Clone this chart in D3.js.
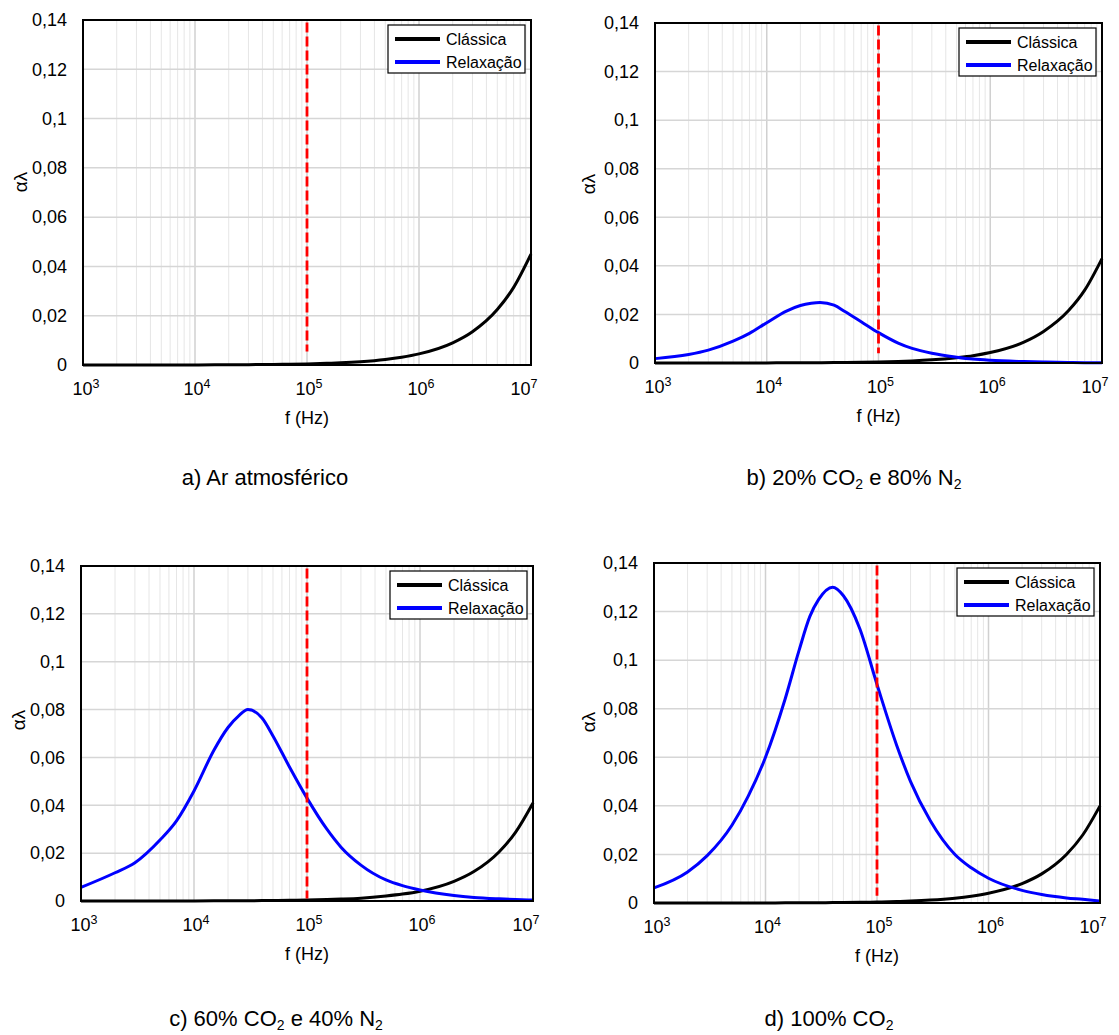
<!DOCTYPE html>
<html>
<head>
<meta charset="utf-8">
<script src="https://cdn.jsdelivr.net/npm/d3@7"></script>
<style>
  body { margin: 0; background: #fff; }
  svg { display: block; }
  text { font-family: "Liberation Sans", Arial, sans-serif; fill: #000; }
</style>
</head>
<body>
<svg id="chart" width="1119" height="1035"></svg>
<script>
// sample frequencies (Hz)
var freq = [1e3, 2e3, 3e3, 5e3, 7e3, 1e4, 1.5e4, 2e4, 2.5e4, 3e4, 4e4, 5e4, 7e4,
            1e5, 1.5e5, 2e5, 3e5, 5e5, 7e5, 1e6, 2e6, 3e6, 5e6, 7e6, 1e7];

// "Clássica" curves
var classicA = [0.000005, 0.000009, 0.000014, 0.000023, 0.000032, 0.000045, 0.000068, 0.00009, 0.00011, 0.000135, 0.00018, 0.000225, 0.000315,
                0.00045, 0.00068, 0.0009, 0.00135, 0.00225, 0.00315, 0.0045, 0.009, 0.0135, 0.0225, 0.0315, 0.045];
var classicB = [0.000004, 0.000009, 0.000013, 0.000022, 0.00003, 0.000043, 0.000065, 0.000086, 0.00011, 0.00013, 0.00017, 0.00022, 0.0003,
                0.00043, 0.00065, 0.00086, 0.0013, 0.0022, 0.003, 0.0043, 0.0086, 0.013, 0.0215, 0.030, 0.043];
var classicC = [0.000004, 0.000008, 0.000012, 0.000021, 0.000029, 0.000041, 0.000062, 0.000082, 0.0001, 0.00012, 0.00016, 0.00021, 0.00029,
                0.00041, 0.00062, 0.00082, 0.0012, 0.0021, 0.0029, 0.0041, 0.0082, 0.0123, 0.0205, 0.0287, 0.041];
var classicD = [0.000004, 0.000008, 0.000012, 0.00002, 0.000028, 0.00004, 0.00006, 0.00008, 0.0001, 0.00012, 0.00016, 0.0002, 0.00028,
                0.0004, 0.0006, 0.0008, 0.0012, 0.002, 0.0028, 0.004, 0.008, 0.012, 0.020, 0.028, 0.040];

// "Relaxação" curves (none visible in panel a)
var relaxA = [];
var relaxB = [0.0018, 0.0035, 0.0053, 0.0090, 0.0122, 0.0166, 0.0214, 0.0237, 0.0246, 0.0249, 0.0238, 0.0212, 0.0170,
              0.0125, 0.0082, 0.0060, 0.0040, 0.0024, 0.0016, 0.0011, 0.0006, 0.0004, 0.0002, 0.00015, 0.0001];
var relaxC = [0.0057, 0.0118, 0.0160, 0.0255, 0.0335, 0.0460, 0.0630, 0.0725, 0.0775, 0.0800, 0.0765, 0.0690, 0.0560,
              0.0430, 0.0300, 0.0225, 0.0150, 0.0088, 0.0064, 0.0046, 0.0023, 0.0015, 0.0009, 0.0006, 0.0004];
var relaxD = [0.0062, 0.0128, 0.0195, 0.0320, 0.0440, 0.0600, 0.0840, 0.1040, 0.1180, 0.1250, 0.1300, 0.1265, 0.1130,
              0.0900, 0.0650, 0.0500, 0.0340, 0.0200, 0.0145, 0.0102, 0.0052, 0.0035, 0.0021, 0.0015, 0.0008];

// red dashed marker at 100 kHz
var markerFreq = [1e5, 1e5, 1e5, 1e5];
var markerLow = [0.0055, 0.004, 0.001, 0.003];
var markerHigh = 0.139;

var yTicks = [0, 0.02, 0.04, 0.06, 0.08, 0.1, 0.12, 0.14];
var yTickLabels = ["0", "0,02", "0,04", "0,06", "0,08", "0,1", "0,12", "0,14"];
var xTickExps = [3, 4, 5, 6, 7];
var seriesNames = ["Clássica", "Relaxação"];
var seriesColors = ["#000000", "#0000ff"];
var xTitle = "f (Hz)";
var yTitle = "αλ";

// captions: [text, subscript] pieces
var captions = [
  [["a) Ar atmosférico", false]],
  [["b) 20% CO", false], ["2", true], [" e 80% N", false], ["2", true]],
  [["c) 60% CO", false], ["2", true], [" e 40% N", false], ["2", true]],
  [["d) 100% CO", false], ["2", true]]
];

var svg = d3.select("#chart");

var panels = [
  { left: 83,  right: 531,  top: 20,  bottom: 365, classic: classicA, relax: relaxA, capX: 265, capY: 485, ylx: 20,  yly: 182 },
  { left: 655, right: 1102, top: 23,  bottom: 363, classic: classicB, relax: relaxB, capX: 854, capY: 485, ylx: 588, yly: 184 },
  { left: 81,  right: 533,  top: 566, bottom: 901, classic: classicC, relax: relaxC, capX: 276, capY: 1026, ylx: 18, yly: 720 },
  { left: 654, right: 1100, top: 563, bottom: 903, classic: classicD, relax: relaxD, capX: 829, capY: 1026, ylx: 588, yly: 722 }
];

panels.forEach(drawPanel);

function drawPanel(p, i) {
  var x = d3.scaleLog().domain([1e3, 1e7]).range([p.left, p.right]);
  var y = d3.scaleLinear().domain([0, 0.14]).range([p.bottom, p.top]);
  var g = svg.append("g");

  // minor vertical grid (2..9 in each decade)
  var minor = [];
  xTickExps.slice(0, -1).forEach(function(e) {
    for (var m = 2; m < 10; m++) minor.push(m * Math.pow(10, e));
  });
  g.selectAll(".vminor").data(minor).enter().append("line")
    .attr("x1", function(d) { return x(d); }).attr("x2", function(d) { return x(d); })
    .attr("y1", p.top).attr("y2", p.bottom)
    .attr("stroke", "#e6e6e6").attr("stroke-width", 1);

  // major vertical grid
  g.selectAll(".vmajor").data(xTickExps).enter().append("line")
    .attr("x1", function(e) { return x(Math.pow(10, e)); }).attr("x2", function(e) { return x(Math.pow(10, e)); })
    .attr("y1", p.top).attr("y2", p.bottom)
    .attr("stroke", "#d0d0d0").attr("stroke-width", 1.5);

  // horizontal grid
  g.selectAll(".hgrid").data(yTicks).enter().append("line")
    .attr("x1", p.left).attr("x2", p.right)
    .attr("y1", function(d) { return y(d); }).attr("y2", function(d) { return y(d); })
    .attr("stroke", "#d6d6d6").attr("stroke-width", 1.5);

  // y tick labels
  g.selectAll(".ylab").data(yTicks).enter().append("text")
    .attr("x", p.left - 16).attr("y", function(d) { return y(d); })
    .attr("dy", "0.35em").attr("text-anchor", "end")
    .style("font-size", "18px")
    .text(function(d, k) { return yTickLabels[k]; });

  // x tick labels 10^n
  var xl = g.selectAll(".xlab").data(xTickExps).enter().append("text")
    .attr("x", function(e) { return x(Math.pow(10, e)) + (e === 3 ? 3 : e === 7 ? -7 : 2); })
    .attr("y", p.bottom + 30)
    .attr("text-anchor", "middle")
    .style("font-size", "18px");
  xl.append("tspan").text("10");
  xl.append("tspan").attr("dy", -7).style("font-size", "12.5px").text(function(e) { return e; });

  // axis titles
  g.append("text").attr("x", (p.left + p.right) / 2).attr("y", p.bottom + 59)
    .attr("text-anchor", "middle").style("font-size", "18px").text(xTitle);
  g.append("text").attr("transform", "translate(" + p.ylx + "," + p.yly + ") rotate(-90)")
    .attr("text-anchor", "middle").attr("dy", "0.35em")
    .style("font-size", "19px").text(yTitle);

  var line = d3.line()
    .x(function(d) { return x(d[0]); })
    .y(function(d) { return y(d[1]); })
    .curve(d3.curveMonotoneX);

  // curves
  g.append("path").datum(d3.zip(freq, p.classic))
    .attr("d", line).attr("fill", "none")
    .attr("stroke", seriesColors[0]).attr("stroke-width", 3);
  if (p.relax.length) {
    g.append("path").datum(d3.zip(freq, p.relax))
      .attr("d", line).attr("fill", "none")
      .attr("stroke", seriesColors[1]).attr("stroke-width", 3);
  }

  // red dashed marker
  g.append("line")
    .attr("x1", x(markerFreq[i])).attr("x2", x(markerFreq[i]))
    .attr("y1", y(markerHigh)).attr("y2", y(markerLow[i]))
    .attr("stroke", "#ff0000").attr("stroke-width", 2.8)
    .attr("stroke-dasharray", "10,4");

  // frame
  g.append("rect")
    .attr("x", p.left).attr("y", p.top)
    .attr("width", p.right - p.left).attr("height", p.bottom - p.top)
    .attr("fill", "none").attr("stroke", "#000").attr("stroke-width", 2);

  // legend
  var lw = 137, lh = 48;
  var lx = p.right - 6 - lw, ly = p.top + 5;
  var leg = g.append("g").attr("transform", "translate(" + lx + "," + ly + ")");
  leg.append("rect").attr("width", lw).attr("height", lh)
    .attr("fill", "#fff").attr("stroke", "#000").attr("stroke-width", 1.2);
  var items = leg.selectAll(".item").data(seriesNames).enter().append("g")
    .attr("transform", function(d, k) { return "translate(0," + (14 + k * 23) + ")"; });
  items.append("line").attr("x1", 7).attr("x2", 52)
    .attr("stroke", function(d, k) { return seriesColors[k]; }).attr("stroke-width", 4);
  items.append("text").attr("x", 58).attr("dy", "0.35em")
    .style("font-size", "16px").text(function(d) { return d; });

  // caption
  var cap = svg.append("text").attr("x", p.capX).attr("y", p.capY)
    .attr("text-anchor", "middle").style("font-size", "22px");
  var prevSub = false;
  captions[i].forEach(function(part) {
    var t = cap.append("tspan").text(part[0]);
    if (part[1]) {
      t.attr("dy", 4).style("font-size", "14px");
    } else if (prevSub) {
      t.attr("dy", -4);
    }
    prevSub = part[1];
  });
}
</script>
</body>
</html>
